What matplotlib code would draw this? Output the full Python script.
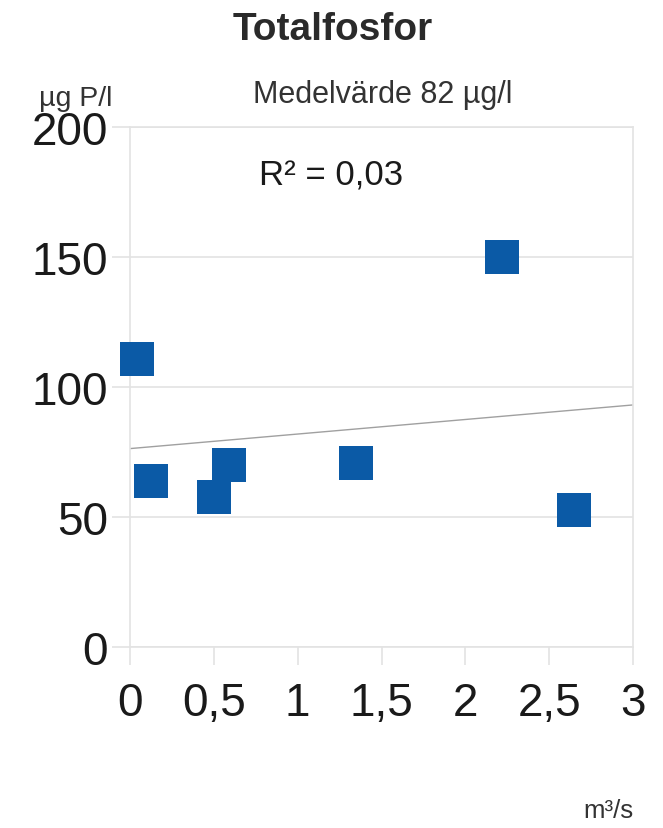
import numpy as np
import matplotlib
matplotlib.use("Agg")
import matplotlib.pyplot as plt
from matplotlib.ticker import FuncFormatter

plt.rcParams['font.family'] = ['Liberation Sans', 'DejaVu Sans']

# Flow (m³/s) and total phosphorus (µg P/l)
flow = [0.04, 0.125, 0.50, 0.59, 1.35, 2.22, 2.65]
tot_p = [111, 64, 58, 70, 71, 150, 53]

x_ticks = [0, 0.5, 1, 1.5, 2, 2.5, 3]
y_ticks = [0, 50, 100, 150, 200]

x = np.array(flow)
y = np.array(tot_p)
slope, intercept = np.polyfit(x, y, 1)
pred = slope * x + intercept
r2 = 1 - np.sum((y - pred) ** 2) / np.sum((y - y.mean()) ** 2)
mean_val = y.mean()

fig = plt.figure(figsize=(6.63, 8.29), dpi=100)
ax = fig.add_axes([0.196, 0.218, 0.759, 0.627])

grid_c = '#e3e3e3'
ax.set_xlim(0, 3)
ax.set_ylim(0, 200)
ax.set_xticks(x_ticks)
ax.set_yticks(y_ticks)
comma = FuncFormatter(lambda v, p: (f"{v:g}").replace('.', ','))
ax.xaxis.set_major_formatter(comma)
ax.yaxis.set_major_formatter(comma)
ax.grid(axis='y', color=grid_c, lw=1.2)
ax.set_axisbelow(True)
for s in ['left', 'right', 'top', 'bottom']:
    ax.spines[s].set_color(grid_c)
    ax.spines[s].set_linewidth(1.2)
ax.tick_params(axis='both', direction='out', length=13, width=1.2,
               color=grid_c, labelsize=33, labelcolor='#1a1a1a')
ax.tick_params(axis='x', pad=11)
ax.tick_params(axis='y', pad=3)

xl = np.array([0, 3])
ax.plot(xl, slope * xl + intercept, color='#a0a0a0', lw=1.0, zorder=2)
ax.scatter(flow, tot_p, marker='s', s=600, color='#0b5aa6', zorder=3,
           linewidths=0, clip_on=False)

ax.text(0.40, 0.89, f"R² = {r2:.2f}".replace('.', ','), transform=ax.transAxes,
        ha='center', va='baseline', fontsize=25, color='#1a1a1a')

fig.text(0.502, 0.952, "Totalfosfor", ha='center', va='baseline',
         fontsize=28, fontweight='bold', color='#2a2a2a')
fig.text(0.114, 0.872, "µg P/l", ha='center', va='baseline',
         fontsize=20.5, color='#333333')
fig.text(0.577, 0.876, f"Medelvärde {mean_val:.0f} µg/l", ha='center',
         va='baseline', fontsize=22, color='#333333')
fig.text(0.917, 0.013, "m³/s", ha='center', va='baseline',
         fontsize=18.5, color='#333333')

fig.savefig("out.png", dpi=100, facecolor='white')
